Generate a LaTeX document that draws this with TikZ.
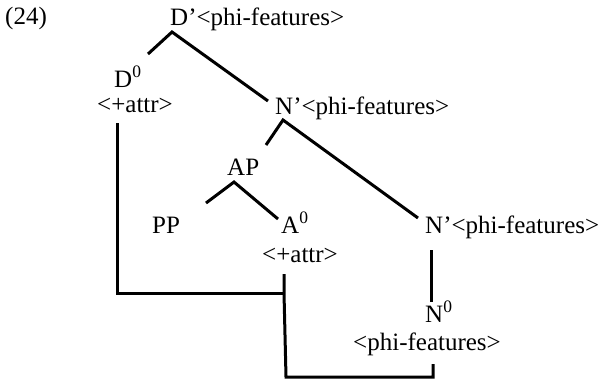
\documentclass[tikz,border=0pt]{standalone}
\usepackage{fontspec}
\setmainfont{Liberation Serif}
\begin{document}
\begin{tikzpicture}[x=1pt,y=-1pt,
  lbl/.style={anchor=base west,inner sep=0pt,font=\fontsize{25}{28}\selectfont},
  br/.style={line width=3pt,line cap=butt,line join=miter}]
\useasboundingbox (0,0) rectangle (604,384);
\node[lbl] (ex) at (5,24) {(24)};
\node[lbl] (Dp) at (170,25) {D’<phi-features>};
\node[lbl] (D0) at (114,87) {D\textsuperscript{0}};
\node[lbl] (D0f) at (97,112) {<+attr>};
\node[lbl] (Np1) at (275,114) {N’<phi-features>};
\node[lbl] (AP) at (227,175) {AP};
\node[lbl] (PP) at (152,233) {PP};
\node[lbl] (A0) at (281,233) {A\textsuperscript{0}};
\node[lbl] (A0f) at (262,262) {<+attr>};
\node[lbl] (Np2) at (425,233) {N’<phi-features>};
\node[lbl] (N0) at (425,322) {N\textsuperscript{0}};
\node[lbl] (N0f) at (353,350) {<phi-features>};
% branch coordinates
\coordinate (dApex) at (172,32);
\coordinate (dL) at (148,54);
\coordinate (dR) at (268,101);
\coordinate (nApex) at (283,120);
\coordinate (nL) at (266,145);
\coordinate (nR) at (418,218);
\coordinate (aApex) at (234,182);
\coordinate (aL) at (206,203);
\coordinate (aR) at (278,219);
\coordinate (n2T) at (431,250);
\coordinate (n2B) at (431,302);
% association lines
\coordinate (dfT) at (117,123);
\coordinate (dfB) at (117,293);
\coordinate (afT) at (284,274);
\coordinate (afM) at (284,293);
\coordinate (afB) at (286,377);
\coordinate (nfB) at (433,377);
\coordinate (nfT) at (433,364);
\draw[br] (dL) -- (dApex) -- (dR);
\draw[br] (nL) -- (nApex) -- (nR);
\draw[br] (aL) -- (aApex) -- (aR);
\draw[br] (n2T) -- (n2B);
\draw[br] (dfT) -- (dfB) -- (afM);
\draw[br] (afT) -- (afM) -- (afB) -- (nfB) -- (nfT);
\end{tikzpicture}
\end{document}
